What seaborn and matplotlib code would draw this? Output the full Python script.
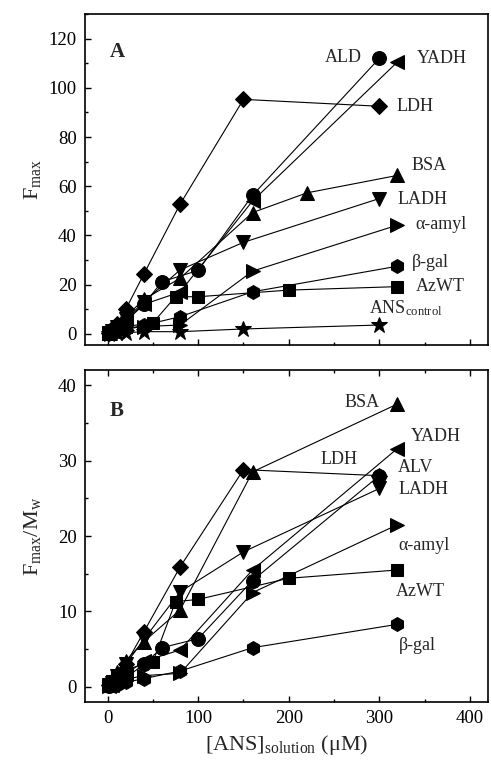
import matplotlib
matplotlib.use('Agg')
import matplotlib.pyplot as plt
import seaborn as sns
from matplotlib.ticker import MultipleLocator

sns.set_theme(style='ticks')
plt.rcParams['font.family'] = ['Liberation Serif', 'DejaVu Serif']
plt.rcParams['mathtext.fontset'] = 'custom'
plt.rcParams['mathtext.rm'] = 'Liberation Serif'
plt.rcParams['mathtext.default'] = 'regular'

# Panel A: Fmax vs [ANS]
a_ldh_x = [2, 5, 10, 20, 40, 80, 150, 300]
a_ldh_y = [0.5, 2, 4, 10, 24.3, 52.7, 95.3, 92.5]
a_ald_x = [2, 5, 10, 20, 40, 60, 100, 160, 300]
a_ald_y = [0.3, 1, 2, 5, 12, 21.2, 25.8, 56.3, 112]
a_yadh_x = [2, 5, 10, 20, 40, 80, 160, 320]
a_yadh_y = [0.3, 1, 3, 6, 12, 17, 54, 110.5]
a_bsa_x = [2, 5, 10, 20, 40, 80, 160, 220, 320]
a_bsa_y = [0.5, 2, 4, 7, 14, 22.6, 49.3, 57.3, 64.4]
a_ladh_x = [2, 5, 10, 20, 40, 80, 150, 300]
a_ladh_y = [0.3, 1, 3, 6, 13, 26, 37.2, 55]
a_amyl_x = [2, 5, 10, 20, 40, 80, 160, 320]
a_amyl_y = [0.2, 0.5, 1, 2, 3, 3.6, 25.5, 44.2]
a_bgal_x = [2, 5, 10, 20, 40, 80, 160, 320]
a_bgal_y = [0.2, 0.5, 1, 2, 3.5, 7, 17.1, 27.5]
a_azwt_x = [2, 5, 10, 20, 50, 75, 100, 200, 320]
a_azwt_y = [0.5, 1, 2, 3, 4.5, 15.1, 15.1, 17.8, 19.2]
a_ans_x = [2, 5, 10, 20, 40, 80, 150, 300]
a_ans_y = [0.1, 0.2, 0.3, 0.5, 0.9, 0.9, 2.0, 3.6]

# Panel B: Fmax/Mw vs [ANS]
b_ldh_x = [2, 5, 10, 20, 40, 80, 150, 300]
b_ldh_y = [0.2, 0.6, 1.2, 3, 7.3, 15.9, 28.8, 28.0]
b_bsa_x = [2, 5, 10, 20, 40, 80, 160, 320]
b_bsa_y = [0.3, 1, 2, 3.5, 6, 10.2, 28.5, 37.5]
b_alv_x = [2, 5, 10, 20, 40, 60, 100, 160, 300]
b_alv_y = [0.1, 0.3, 0.5, 1.2, 3, 5.2, 6.4, 14.1, 28.0]
b_yadh_x = [2, 5, 10, 20, 40, 80, 160, 320]
b_yadh_y = [0.1, 0.3, 0.8, 1.7, 3.4, 4.9, 15.5, 31.6]
b_ladh_x = [2, 5, 10, 20, 40, 80, 150, 300]
b_ladh_y = [0.2, 0.5, 1.5, 3, 6.3, 12.6, 17.9, 26.3]
b_amyl_x = [2, 5, 10, 20, 40, 80, 160, 320]
b_amyl_y = [0.1, 0.2, 0.5, 1, 1.5, 1.8, 12.5, 21.5]
b_bgal_x = [2, 5, 10, 20, 40, 80, 160, 320]
b_bgal_y = [0.1, 0.2, 0.3, 0.6, 1.1, 2.1, 5.2, 8.3]
b_azwt_x = [2, 5, 10, 20, 50, 75, 100, 200, 320]
b_azwt_y = [0.4, 0.8, 1.5, 2.3, 3.3, 11.3, 11.6, 14.4, 15.5]

series_a = [
    (a_ldh_x, a_ldh_y, 'D', 8.5),
    (a_ald_x, a_ald_y, 'o', 10),
    (a_yadh_x, a_yadh_y, '<', 10),
    (a_bsa_x, a_bsa_y, '^', 10),
    (a_ladh_x, a_ladh_y, 'v', 10),
    (a_amyl_x, a_amyl_y, '>', 10),
    (a_bgal_x, a_bgal_y, 'h', 10),
    (a_azwt_x, a_azwt_y, 's', 9),
    (a_ans_x, a_ans_y, '*', 12),
]
series_b = [
    (b_ldh_x, b_ldh_y, 'D', 8.5),
    (b_bsa_x, b_bsa_y, '^', 10),
    (b_alv_x, b_alv_y, 'o', 10),
    (b_yadh_x, b_yadh_y, '<', 10),
    (b_ladh_x, b_ladh_y, 'v', 10),
    (b_amyl_x, b_amyl_y, '>', 10),
    (b_bgal_x, b_bgal_y, 'h', 10),
    (b_azwt_x, b_azwt_y, 's', 9),
]

fig = plt.figure(figsize=(4.91, 7.6), dpi=100)
axA = fig.add_axes([0.1731, 0.5461, 0.8208, 0.4355])
axB = fig.add_axes([0.1731, 0.0763, 0.8208, 0.4368])


def dibujar(ax, series):
    for x, y, m, ms in series:
        sns.lineplot(x=x, y=y, ax=ax, color='black', lw=0.8, marker=m,
                     markersize=ms, markeredgecolor='black', sort=False,
                     estimator=None, legend=False)


dibujar(axA, series_a)
dibujar(axB, series_b)

for ax in (axA, axB):
    ax.set_xlim(-25, 420)
    ax.xaxis.set_major_locator(MultipleLocator(100))
    ax.xaxis.set_minor_locator(MultipleLocator(50))
    for s in ax.spines.values():
        s.set_linewidth(1.2)
        s.set_color('black')
    ax.tick_params(which='both', direction='in', colors='black',
                   labelsize=13.5, width=1)
    ax.tick_params(which='major', length=4, pad=6)
    ax.tick_params(which='minor', length=2.5)

axA.set_ylim(-4.5, 130)
axA.yaxis.set_major_locator(MultipleLocator(20))
axA.yaxis.set_minor_locator(MultipleLocator(10))
axA.tick_params(axis='x', labelbottom=False)

axB.set_ylim(-2, 42)
axB.yaxis.set_major_locator(MultipleLocator(10))
axB.yaxis.set_minor_locator(MultipleLocator(5))
axB.tick_params(axis='x', which='both', top=True)

axA.set_ylabel(r'F$_{max}$', fontsize=16)
axB.set_ylabel(r'F$_{max}$/M$_{w}$', fontsize=16)
axA.yaxis.set_label_coords(-0.105, 0.5)
axB.yaxis.set_label_coords(-0.105, 0.5)
axB.set_xlabel(r'[ANS]$_{solution}$ ($\mathregular{\mu}$M)', fontsize=16, labelpad=4)

axA.text(2, 114.5, 'A', fontsize=15, fontweight='bold', va='center')
axB.text(2, 36.6, 'B', fontsize=15, fontweight='bold', va='center')

fs = 13
axA.text(281, 112.3, 'ALD', fontsize=fs, ha='right', va='center')
axA.text(341, 112, 'YADH', fontsize=fs, va='center')
axA.text(319, 92.5, 'LDH', fontsize=fs, va='center')
axA.text(335, 68.5, 'BSA', fontsize=fs, va='center')
axA.text(320, 54.6, 'LADH', fontsize=fs, va='center')
axA.text(340, 44.6, 'α-amyl', fontsize=fs, va='center')
axA.text(336, 28.9, 'β-gal', fontsize=fs, va='center')
axA.text(340, 19.2, 'AzWT', fontsize=fs, va='center')
axA.text(289, 10.5, r'ANS$_{control}$', fontsize=fs, va='center')

axB.text(300, 37.7, 'BSA', fontsize=fs, ha='right', va='center')
axB.text(335, 33.2, 'YADH', fontsize=fs, va='center')
axB.text(235, 30.2, 'LDH', fontsize=fs, va='center')
axB.text(320, 29.1, 'ALV', fontsize=fs, va='center')
axB.text(321, 26.2, 'LADH', fontsize=fs, va='center')
axB.text(321, 18.8, 'α-amyl', fontsize=fs, va='center')
axB.text(318, 12.6, 'AzWT', fontsize=fs, va='center')
axB.text(322, 5.5, 'β-gal', fontsize=fs, va='center')

fig.savefig('out.png', dpi=100, facecolor='white')
